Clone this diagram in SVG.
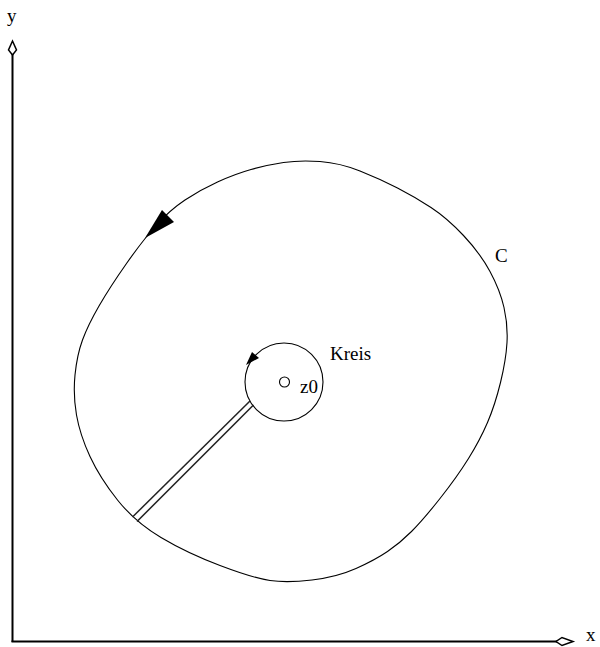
<svg xmlns="http://www.w3.org/2000/svg" width="600" height="647" viewBox="0 0 600 647">
<style>
text{font-family:'Liberation Serif','DejaVu Serif',serif;font-size:19px;fill:#000}
.ax{stroke:#000;stroke-width:2;fill:none}
.head{fill:#fff;stroke:#000;stroke-width:1.5}
.cur{fill:none;stroke:#000;stroke-width:1.1}
.cut{stroke:#222;stroke-width:1.5}
</style>
<rect width="600" height="647" fill="#fff"/>
<g id="axes">
<line class="ax" x1="12.5" y1="642" x2="12.5" y2="53"/>
<line class="ax" x1="11.5" y1="641.5" x2="557" y2="641.5"/>
<polygon class="head" points="12.5,41 16.5,50 12.5,55 8.5,50"/>
<polygon class="head" points="573,641.5 562,645.5 556,641.5 562,637.5"/>
<text x="7" y="22" font-family="Liberation Serif, serif">y</text>
<text x="586" y="641" font-family="Liberation Serif, serif">x</text>
</g>
<g id="contour-C">
<path class="cur" d="M 320,161.5 Q 340,163 360,171 Q 380,179 397.5,188 Q 415,197 431,207.5 Q 447,218 463.5,235.5 Q 480,253 490,271.5 Q 500,290 504,307.5 Q 508,325 507,342.5 Q 506,360 500.5,382.5 Q 495,405 487.5,422.5 Q 480,440 468.5,458.5 Q 457,477 440,498.5 Q 423,520 411.5,531.5 Q 400,543 387.5,551.5 Q 375,560 356,568.5 Q 337,577 312,580 Q 287,583 270,580.5 Q 253,578 220,565.5 Q 187,553 161,537.5 Q 135,522 117.5,500 Q 100,478 90,456.5 Q 80,435 76.5,415 Q 73,395 75,375 Q 77,355 82.5,340 Q 88,325 99,306 Q 110,287 126.5,263.5 Q 143,240 156.5,225 Q 170,210 185,200 Q 200,190 217.5,182 Q 235,174 251,169.5 Q 267,165 283.5,162.5 Q 300,160 320,161.5 Z"/>
<polygon points="145,238 162,210 174,222" fill="#000"/>
<text x="495" y="262" font-family="Liberation Serif, serif">C</text>
</g>
<g id="kreis">
<circle class="cur" cx="284" cy="382" r="39"/>
<polygon points="246,365 252,352 259,358" fill="#000"/>
<text x="330" y="360" font-family="Liberation Serif, serif">Kreis</text>
</g>
<g id="z0">
<circle class="cur" cx="284.5" cy="382" r="5"/>
<text x="300" y="393" font-family="Liberation Serif, serif">z0</text>
</g>
<g id="connectors">
<line class="cut" x1="250" y1="401" x2="132.5" y2="517"/>
<line class="cut" x1="253.5" y1="405" x2="137" y2="521.5"/>
</g>
</svg>
